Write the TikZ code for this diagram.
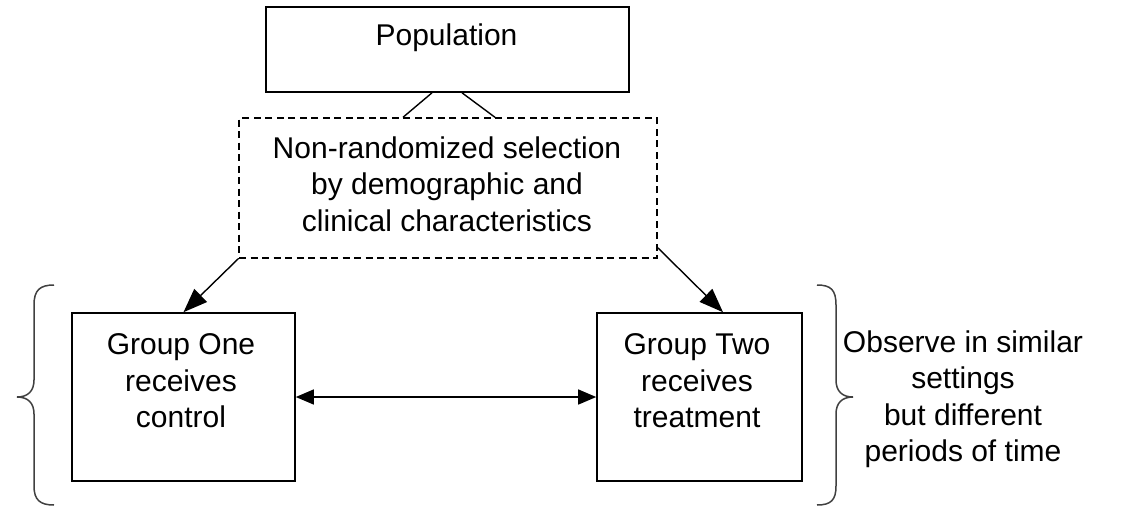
\documentclass[tikz,border=0pt]{standalone}
\usepackage{fontspec}
\setmainfont{Liberation Sans}
\usetikzlibrary{arrows.meta}
\begin{document}
\begin{tikzpicture}[x=1pt,y=-1pt,
  box/.style={draw, line width=1.6pt, inner sep=0pt},
  dbox/.style={draw, line width=1.4pt, inner sep=0pt, dash pattern=on 7pt off 4.5pt},
  txt/.style={align=center, inner sep=0pt, font=\fontsize{30}{36.5}\selectfont},
  conn/.style={line width=1.4pt},
  arr/.style={line width=1.4pt, arrows={-Triangle[length=24pt,width=18pt]}},
  arrb/.style={line width=1.4pt, arrows={Triangle[length=18pt,width=15pt]-Triangle[length=18pt,width=15pt]}},
  brace/.style={line width=1.5pt, draw=black!75}]
\useasboundingbox (0,0) rectangle (1130,507);
\node[box, minimum width=363pt, minimum height=85pt] (pop) at (447.5,49.5) {};
\node[txt] (popt) at (446.5,38) {Population};
\node[dbox, minimum width=418pt, minimum height=140pt] (sel) at (448,188) {};
\node[txt] (selt) at (447,184) {Non-randomized selection\\by demographic and\\clinical characteristics};
\node[box, minimum width=223pt, minimum height=168pt] (g1) at (183.5,397) {};
\node[txt] (g1t) at (181,381) {Group One\\receives\\control};
\node[box, minimum width=205pt, minimum height=168pt] (g2) at (699.5,397) {};
\node[txt] (g2t) at (697,381) {Group Two\\receives\\treatment};
\node[txt] (obs) at (963,399) {Observe in similar\\settings\\but different\\periods of time};
\draw[conn] ([xshift=-15.5pt]pop.south) -- ([xshift=-45pt]sel.north);
\draw[conn] ([xshift=14.5pt]pop.south) -- ([xshift=47pt]sel.north);
\draw[arr] (sel.south west) -- (g1.north);
\draw[arr] ([yshift=11pt]sel.south east) -- ([xshift=23.5pt]g2.north);
\draw[arrb] (g1) -- (g2);
\draw[brace] (54,285) .. controls (40,285) and (34,290) .. (34,305) -- (34,380)
  .. controls (34,391) and (28,397) .. (17,397)
  .. controls (28,397) and (34,403) .. (34,414) -- (34,486)
  .. controls (34,500) and (40,505) .. (54,505);
\draw[brace] (817,285) .. controls (831,285) and (836,290) .. (836,305) -- (836,380)
  .. controls (836,391) and (842,397) .. (853,397)
  .. controls (842,397) and (836,403) .. (836,414) -- (836,486)
  .. controls (836,500) and (831,505) .. (817,505);
\end{tikzpicture}
\end{document}
